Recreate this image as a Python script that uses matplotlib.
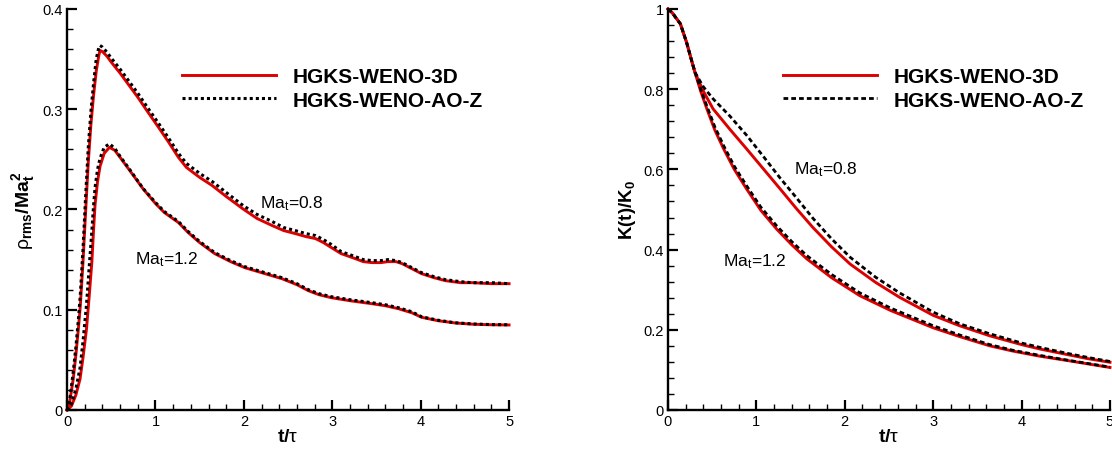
import matplotlib.pyplot as plt
from matplotlib.ticker import MultipleLocator

plt.rcParams['font.family'] = ['Liberation Sans', 'DejaVu Sans']
plt.rcParams['mathtext.fontset'] = 'custom'
plt.rcParams['mathtext.rm'] = 'Liberation Sans'
plt.rcParams['mathtext.it'] = 'Liberation Sans'
plt.rcParams['mathtext.bf'] = 'Liberation Sans:bold'

# ---- left panel: rho_rms / Ma_t^2 ----
t08 = [0, 0.03, 0.07, 0.1, 0.128, 0.15, 0.18, 0.21, 0.24, 0.27, 0.3, 0.33, 0.36, 0.373, 0.4,
       0.45, 0.5, 0.6, 0.675, 0.8, 0.9, 1.05, 1.15, 1.26, 1.35, 1.5, 1.64, 1.8, 1.99, 2.15,
       2.32, 2.45, 2.58, 2.7, 2.81, 2.9, 2.99, 3.1, 3.26, 3.35, 3.45, 3.55, 3.63, 3.72, 3.79,
       3.9, 4.01, 4.15, 4.28, 4.45, 4.58, 4.8, 5.0]
rho08_3d = [0, 0.008, 0.031, 0.055, 0.081, 0.104, 0.147, 0.198, 0.247, 0.285, 0.314, 0.338,
            0.354, 0.3586, 0.3575, 0.353, 0.347, 0.336, 0.327, 0.312, 0.299, 0.280, 0.267,
            0.252, 0.242, 0.232, 0.224, 0.213, 0.2006, 0.191, 0.184, 0.179, 0.176, 0.173,
            0.171, 0.167, 0.162, 0.156, 0.151, 0.148, 0.147, 0.147, 0.148, 0.148, 0.146,
            0.141, 0.136, 0.132, 0.129, 0.127, 0.127, 0.126, 0.126]
rho08_ao = [0, 0.010, 0.038, 0.063, 0.090, 0.115, 0.160, 0.213, 0.262, 0.298, 0.326, 0.350,
            0.362, 0.3636, 0.362, 0.357, 0.351, 0.340, 0.331, 0.316, 0.303, 0.284, 0.271,
            0.256, 0.246, 0.236, 0.228, 0.217, 0.204, 0.195, 0.188, 0.182, 0.179, 0.176,
            0.174, 0.170, 0.165, 0.158, 0.153, 0.150, 0.149, 0.149, 0.150, 0.149, 0.147,
            0.142, 0.137, 0.133, 0.130, 0.128, 0.127, 0.127, 0.126]

t12 = [0, 0.05, 0.1, 0.147, 0.18, 0.22, 0.25, 0.28, 0.3, 0.317, 0.345, 0.373, 0.42, 0.48,
       0.54, 0.6, 0.7, 0.86, 1.0, 1.1, 1.26, 1.37, 1.5, 1.67, 1.85, 2.01, 2.2, 2.43, 2.6,
       2.73, 2.85, 2.99, 3.2, 3.45, 3.6, 3.75, 3.9, 4.01, 4.2, 4.39, 4.6, 4.8, 5.0]
rho12_3d = [0, 0.004, 0.015, 0.031, 0.052, 0.081, 0.113, 0.147, 0.18, 0.205, 0.228, 0.243,
            0.256, 0.262, 0.259, 0.252, 0.240, 0.2206, 0.206, 0.197, 0.187, 0.177, 0.167,
            0.156, 0.148, 0.142, 0.137, 0.131, 0.125, 0.119, 0.115, 0.112, 0.109, 0.106,
            0.104, 0.101, 0.097, 0.0925, 0.089, 0.0868, 0.0855, 0.085, 0.0848]
rho12_ao = [0, 0.006, 0.021, 0.042, 0.068, 0.105, 0.142, 0.178, 0.204, 0.222, 0.240, 0.251,
            0.262, 0.2655, 0.261, 0.253, 0.241, 0.221, 0.207, 0.198, 0.188, 0.178, 0.168,
            0.157, 0.149, 0.143, 0.138, 0.132, 0.126, 0.120, 0.116, 0.113, 0.110, 0.107,
            0.105, 0.102, 0.098, 0.093, 0.0895, 0.087, 0.0858, 0.0852, 0.085]

# ---- right panel: K(t)/K0 ----
tk08 = [0, 0.05, 0.1, 0.14, 0.21, 0.26, 0.305, 0.4, 0.51, 0.7, 0.89, 1.08, 1.27, 1.45, 1.64,
        1.85, 2.06, 2.35, 2.62, 3.0, 3.3, 3.64, 4.0, 4.21, 4.5, 4.75, 5.0]
k08_3d = [1.0, 0.99, 0.975, 0.963, 0.917, 0.877, 0.842, 0.795, 0.751, 0.70, 0.651, 0.601,
          0.551, 0.503, 0.455, 0.407, 0.364, 0.318, 0.281, 0.236, 0.210, 0.185, 0.163, 0.152,
          0.139, 0.128, 0.119]
k08_ao = [1.0, 0.99, 0.975, 0.963, 0.917, 0.877, 0.842, 0.806, 0.776, 0.733, 0.685, 0.632,
          0.578, 0.530, 0.478, 0.427, 0.381, 0.331, 0.292, 0.244, 0.215, 0.190, 0.167, 0.156,
          0.142, 0.131, 0.121]

tk12 = [0, 0.05, 0.1, 0.14, 0.21, 0.26, 0.305, 0.37, 0.44, 0.53, 0.63, 0.75, 0.89, 1.05,
        1.23, 1.4, 1.57, 1.85, 2.17, 2.52, 3.0, 3.3, 3.64, 3.9, 4.21, 4.5, 4.75, 5.0]
k12_3d = [1.0, 0.99, 0.975, 0.963, 0.917, 0.877, 0.842, 0.795, 0.751, 0.698, 0.651, 0.60,
          0.551, 0.498, 0.451, 0.412, 0.377, 0.33, 0.285, 0.248, 0.205, 0.183, 0.16, 0.147,
          0.134, 0.124, 0.115, 0.106]
k12_ao = [1.0, 0.99, 0.975, 0.963, 0.917, 0.877, 0.843, 0.80, 0.758, 0.706, 0.659, 0.608,
          0.559, 0.506, 0.459, 0.42, 0.385, 0.338, 0.292, 0.254, 0.210, 0.187, 0.163, 0.149,
          0.136, 0.125, 0.116, 0.107]

xticks = [0, 1, 2, 3, 4, 5]
xticklabels = ['0', '1', '2', '3', '4', '5']
rho_ticks = [0, 0.1, 0.2, 0.3, 0.4]
rho_ticklabels = ['0', '0.1', '0.2', '0.3', '0.4']
k_ticks = [0, 0.2, 0.4, 0.6, 0.8, 1.0]
k_ticklabels = ['0', '0.2', '0.4', '0.6', '0.8', '1']

RED = '#dd0000'
names = ['HGKS-WENO-3D', 'HGKS-WENO-AO-Z']

fig = plt.figure(figsize=(11.12, 4.56), dpi=100)
ax1 = fig.add_axes([0.0603, 0.0987, 0.3975, 0.8794])
ax2 = fig.add_axes([0.6007, 0.0987, 0.3975, 0.8794])


def style(ax, yticks, ylabels, yminor):
    ax.set_xlim(0, 5)
    ax.set_ylim(yticks[0], yticks[-1])
    ax.spines['top'].set_visible(False)
    ax.spines['right'].set_visible(False)
    ax.spines['left'].set_linewidth(1.7)
    ax.spines['bottom'].set_linewidth(1.7)
    ax.set_xticks(xticks)
    ax.set_xticklabels(xticklabels)
    ax.set_yticks(yticks)
    ax.set_yticklabels(ylabels)
    ax.xaxis.set_minor_locator(MultipleLocator(0.2))
    ax.yaxis.set_minor_locator(MultipleLocator(yminor))
    ax.tick_params(which='both', direction='in', top=False, right=False, labelsize=10.5)
    ax.tick_params(which='major', length=7, width=1.6, pad=3)
    ax.tick_params(which='minor', length=4, width=1.0)
    ax.set_xlabel(r'$\mathbf{t/}\tau$', fontsize=14, labelpad=0)


dot = (0, (1, 1))
ax1.plot(t08, rho08_3d, color=RED, lw=2.1, label=names[0], clip_on=False)
ax1.plot(t08, rho08_ao, color='black', lw=2.2, ls=dot, label=names[1], clip_on=False)
ax1.plot(t12, rho12_3d, color=RED, lw=2.1, clip_on=False)
ax1.plot(t12, rho12_ao, color='black', lw=2.2, ls=dot, clip_on=False)
style(ax1, rho_ticks, rho_ticklabels, 0.02)
ax1.set_ylabel(r'$\rho_{\mathbf{rms}}\mathbf{/Ma_t^2}$', fontsize=14, labelpad=4)
ax1.text(2.18, 0.207, r'Ma$_\mathrm{t}$=0.8', fontsize=12.5, va='center')
ax1.text(0.77, 0.151, r'Ma$_\mathrm{t}$=1.2', fontsize=12.5, va='center')

dash = (0, (1.7, 1.1))
ax2.plot(tk08, k08_3d, color=RED, lw=2.1, label=names[0], clip_on=False)
ax2.plot(tk08, k08_ao, color='black', lw=2.0, ls=dash, label=names[1], clip_on=False)
ax2.plot(tk12, k12_3d, color=RED, lw=2.1, clip_on=False)
ax2.plot(tk12, k12_ao, color='black', lw=2.0, ls=dash, clip_on=False)
style(ax2, k_ticks, k_ticklabels, 0.04)
ax2.set_ylabel(r'$\mathbf{K(t)/K_0}$', fontsize=13.5, labelpad=4)
ax2.text(1.43, 0.602, r'Ma$_\mathrm{t}$=0.8', fontsize=12.5, va='center')
ax2.text(0.62, 0.372, r'Ma$_\mathrm{t}$=1.2', fontsize=12.5, va='center')

for ax in (ax1, ax2):
    ax.legend(loc='upper left', bbox_to_anchor=(0.26, 0.855), frameon=False,
              prop={'weight': 'bold', 'size': 15}, handlelength=4.5,
              handletextpad=0.8, labelspacing=0.22, borderpad=0, borderaxespad=0)

plt.savefig('out.png', dpi=100)
